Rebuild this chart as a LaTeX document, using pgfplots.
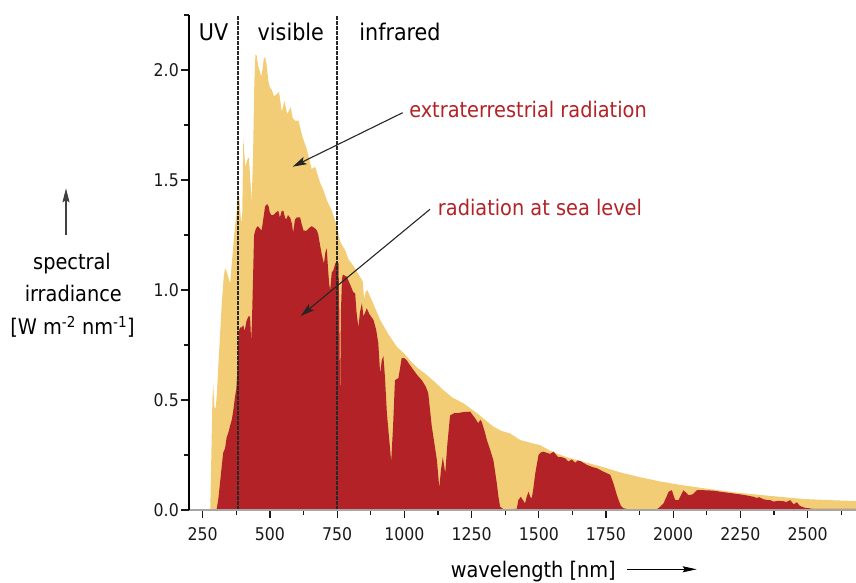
\documentclass[border=0pt]{standalone}
\usepackage{pgfplots}
\pgfplotsset{compat=1.18}
\usepackage{fontspec}
\setmainfont{DejaVu Sans Condensed}
\usetikzlibrary{arrows.meta}
\definecolor{sunY}{RGB}{243,204,118}
\definecolor{sunR}{RGB}{178,34,38}
\definecolor{dashc}{RGB}{40,40,40}
\begin{document}
\begin{tikzpicture}
\path[use as bounding box] (-189.3pt,-73pt) rectangle (666.7pt,510pt);
\begin{axis}[
  at={(0pt,0pt)}, anchor=south west,
  scale only axis, width=666.7pt, height=495pt,
  xmin=200, xmax=2680, ymin=0, ymax=2.25,
  axis lines*=left,
  axis on top,
  xtick={250,500,...,2500},
  minor xtick={375,625,...,2625},
  ytick={0,0.5,1.0,1.5,2.0},
  minor ytick={0.25,0.75,1.25,1.75,2.25},
  tick align=outside,
  major tick length=8pt, minor tick length=5pt,
  every tick/.style={black!90, line width=1.3pt},
  every minor tick/.style={black!90, line width=1.3pt},
  x axis line style={gray!70, line width=1.2pt},
  y axis line style={black, line width=2pt},
  /pgf/number format/assume math mode=true,
  tick label style={font=\fontsize{17.5}{20}\selectfont, text=black!90},
  xticklabel style={/pgf/number format/1000 sep={}, yshift=-6pt},
  yticklabel style={/pgf/number format/fixed, /pgf/number format/fixed zerofill, /pgf/number format/precision=1, xshift=1pt},
]
% extraterrestrial
\addplot[fill=sunY, draw=none] coordinates {
(278,0)(282,0.25)(286,0.5)(289,0.57)(293,0.47)(298,0.46)(302,0.52)(310,0.7)(320,0.92)(328,1.06)(333,1.10)(340,1.08)(347,1.05)(352,1.03)(358,1.12)(365,1.22)(370,1.29)(376,1.35)(381,1.45)(386,1.42)(393,1.30)(397,1.35)(401,1.69)(405,1.62)(408,1.56)(413,1.58)(418,1.60)(422,1.60)(427,1.50)(432,1.40)(437,1.60)(442,1.95)(446,2.07)(451,2.065)(456,2.02)(461,2.00)(467,1.97)(472,2.00)(477,2.05)(482,2.06)(488,2.02)(494,1.95)(500,1.92)(507,1.91)(515,1.88)(525,1.89)(534,1.90)(544,1.81)(554,1.86)(564,1.80)(577,1.83)(585,1.78)(593,1.77)(606,1.77)(620,1.70)(637,1.64)(655,1.55)(668,1.56)(686,1.49)(700,1.45)(711,1.41)(730,1.36)(749,1.29)(761,1.22)(780,1.18)(792,1.14)(810,1.11)(830,1.07)(845,1.04)(850,0.96)(856,0.99)(862,1.00)(880,0.95)(910,0.864)(940,0.80)(972,0.742)(1000,0.71)(1021,0.68)(1050,0.645)(1083,0.614)(1115,0.58)(1145,0.545)(1180,0.51)(1220,0.485)(1270,0.44)(1300,0.41)(1331,0.379)(1360,0.36)(1393,0.348)(1431,0.318)(1470,0.305)(1505,0.295)(1542,0.27)(1570,0.255)(1604,0.24)(1640,0.228)(1679,0.215)(1715,0.203)(1753,0.19)(1800,0.172)(1877,0.149)(1950,0.13)(2026,0.114)(2113,0.099)(2237,0.079)(2361,0.064)(2485,0.05)(2600,0.044)(2700,0.04)
} \closedcycle;
% sea level
\addplot[fill=sunR, draw=none] coordinates {
(295,0)(302,0.005)(308,0.05)(314,0.12)(320,0.19)(326,0.26)(333,0.28)(339,0.33)(345,0.35)(351,0.38)(358,0.41)(364,0.455)(370,0.515)(375,0.55)(379,0.64)(382,0.76)(386,0.82)(390,0.83)(395,0.83)(401,0.84)(404,0.82)(407,0.82)(413,0.86)(420,0.88)(426,0.88)(430,0.77)(433,0.85)(437,1.05)(441,1.25)(448,1.28)(455,1.29)(462,1.28)(469,1.27)(475,1.32)(482,1.38)(490,1.39)(495,1.38)(500,1.35)(506,1.34)(512,1.34)(520,1.35)(531,1.36)(537,1.33)(544,1.36)(550,1.36)(556,1.33)(560,1.32)(567,1.34)(575,1.33)(582,1.30)(586,1.26)(593,1.32)(600,1.33)(606,1.33)(612,1.33)(618,1.30)(625,1.27)(631,1.27)(637,1.27)(644,1.28)(655,1.29)(668,1.28)(675,1.27)(680,1.25)(687,1.20)(693,1.16)(701,1.12)(706,1.17)(711,1.19)(716,1.10)(720,1.03)(724,1.0)(730,1.08)(736,1.09)(743,1.12)(749,1.13)(755,1.12)(758,0.9)(761,0.5)(764,0.9)(768,1.05)(771,1.07)(786,1.06)(800,1.02)(810,0.99)(817,0.985)(822,0.9)(829,0.83)(835,0.90)(842,0.94)(848,0.88)(855,0.90)(860,0.917)(870,0.89)(885,0.864)(895,0.82)(903,0.758)(910,0.62)(916,0.68)(922,0.70)(928,0.6)(935,0.44)(943,0.33)(951,0.22)(958,0.38)(965,0.59)(978,0.60)(990,0.69)(1000,0.69)(1009,0.68)(1020,0.66)(1034,0.636)(1050,0.61)(1065,0.59)(1080,0.56)(1089,0.53)(1095,0.46)(1102,0.38)(1112,0.30)(1121,0.227)(1130,0.10)(1136,0.18)(1143,0.24)(1148,0.2)(1152,0.167)(1160,0.30)(1170,0.43)(1185,0.44)(1195,0.44)(1220,0.445)(1245,0.447)(1255,0.43)(1263,0.417)(1275,0.394)(1282,0.41)(1288,0.40)(1298,0.36)(1307,0.318)(1320,0.27)(1331,0.227)(1338,0.17)(1344,0.12)(1350,0.06)(1356,0.015)(1369,0.003)(1418,0.005)(1424,0.045)(1433,0.06)(1441,0.045)(1449,0.03)(1455,0.06)(1462,0.083)(1468,0.06)(1474,0.053)(1480,0.10)(1487,0.167)(1499,0.25)(1508,0.262)(1517,0.265)(1530,0.26)(1542,0.255)(1555,0.265)(1565,0.25)(1573,0.24)(1585,0.24)(1598,0.235)(1610,0.22)(1623,0.23)(1635,0.215)(1645,0.225)(1654,0.223)(1665,0.215)(1679,0.205)(1700,0.195)(1716,0.19)(1741,0.174)(1766,0.16)(1778,0.12)(1790,0.07)(1797,0.045)(1805,0.02)(1815,0.008)(1830,0.004)(1940,0.004)(1952,0.015)(1964,0.03)(1975,0.06)(1983,0.083)(1995,0.09)(2003,0.06)(2008,0.045)(2020,0.045)(2030,0.07)(2038,0.09)(2048,0.078)(2057,0.068)(2070,0.07)(2076,0.075)(2088,0.09)(2100,0.09)(2113,0.09)(2130,0.089)(2150,0.088)(2175,0.083)(2200,0.079)(2225,0.075)(2250,0.071)(2275,0.066)(2299,0.06)(2310,0.055)(2320,0.058)(2336,0.049)(2350,0.045)(2361,0.045)(2373,0.038)(2390,0.042)(2410,0.04)(2420,0.036)(2435,0.045)(2448,0.026)(2460,0.035)(2470,0.02)(2479,0.015)(2490,0.01)(2504,0.008)(2520,0.005)(2700,0.005)
} \closedcycle;
\draw[dashc, line width=2.3pt, dash pattern=on 3.5pt off 1.5pt] (axis cs:380,0) -- (axis cs:380,2.25);
\draw[dashc, line width=2.3pt, dash pattern=on 3.5pt off 1.5pt] (axis cs:750,0) -- (axis cs:750,2.25);
\end{axis}
% region labels
\node[anchor=base, font=\fontsize{23}{26}\selectfont, inner sep=0pt] at (24.2pt,469.3pt) {UV};
\node[anchor=base, font=\fontsize{23}{26}\selectfont, inner sep=0pt] at (101.5pt,469.3pt) {visible};
\node[anchor=base, font=\fontsize{23}{26}\selectfont, inner sep=0pt] at (210.7pt,469.3pt) {infrared};
% annotations
\node[anchor=base, font=\fontsize{21.5}{24}\selectfont, text=sunR, inner sep=0pt] at (338.7pt,392pt) {extraterrestrial radiation};
\node[anchor=base, font=\fontsize{21.5}{24}\selectfont, text=sunR, inner sep=0pt] at (350.7pt,294pt) {radiation at sea level};
\draw[black!85, line width=1.1pt, -{Stealth[length=14pt,width=8pt,inset=3pt]}] (213.4pt,397.3pt) -- (103.4pt,343.3pt);
\draw[black!85, line width=1.1pt, -{Stealth[length=14pt,width=8pt,inset=3pt]}] (240.7pt,300.7pt) -- (111.4pt,194pt);
% y label
\draw[black!75, line width=1.1pt, -{Stealth[length=14pt,width=7pt,inset=2pt]}] (-123.3pt,275pt) -- (-123.3pt,321.7pt);
\node[anchor=base, font=\fontsize{21.5}{24}\selectfont, inner sep=0pt] at (-117.3pt,240pt) {spectral};
\node[anchor=base, font=\fontsize{21.5}{24}\selectfont, inner sep=0pt] at (-116pt,208.3pt) {irradiance};
\node[anchor=base, font=\fontsize{21.5}{24}\selectfont, inner sep=0pt] at (-116.8pt,175pt) {[W m\textsuperscript{-2} nm\textsuperscript{-1}]};
% x label
\node[anchor=base, font=\fontsize{21.5}{24}\selectfont, inner sep=0pt] at (344pt,-67pt) {wavelength [nm]};
\draw[black, line width=1pt, -{Stealth[length=14pt,width=6pt,inset=2pt]}] (438pt,-59.3pt) -- (507.4pt,-59.3pt);
\end{tikzpicture}
\end{document}
